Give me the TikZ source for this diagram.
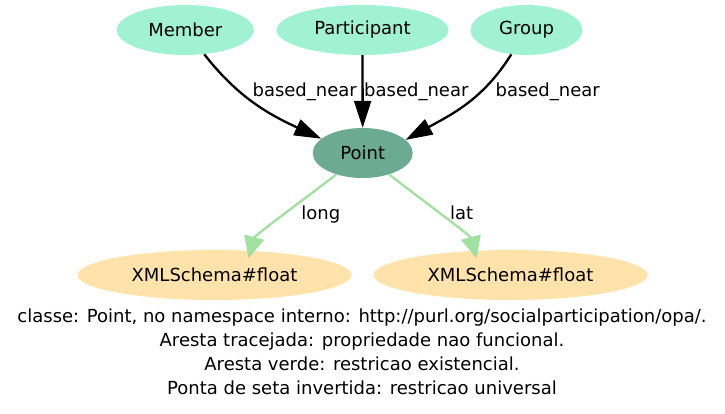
\documentclass[tikz,border=0pt]{standalone}
\usepackage{fontspec}
\setmainfont{DejaVu Sans}
\usepackage{tikz}
\usetikzlibrary{shapes.geometric,arrows.meta}

\definecolor{mint}{HTML}{A1F2D4}
\definecolor{pointfill}{HTML}{6DAA93}
\definecolor{floatfill}{HTML}{FFE3AA}
\definecolor{restrgreen}{HTML}{A0E0A0}

\begin{document}
\begin{tikzpicture}[x=1pt, y=1pt,
  every node/.style={inner sep=0pt, font=\fontsize{18}{23.7}\selectfont},
  cls/.style={ellipse, fill=mint, minimum height=50pt},
  lit/.style={ellipse, fill=floatfill, minimum width=274pt, minimum height=50pt},
  lbl/.style={anchor=base},
  arrow/.style={-{Triangle[length=27pt,width=17pt]}, line width=2.3pt},
  restr/.style={-{Triangle[length=22pt,width=20pt]}, line width=2.3pt, color=restrgreen, shorten >=-8pt}
]
  \useasboundingbox (0,0) rectangle (725,413);

  \node[cls, minimum width=137pt] (member) at (185.3,383) {Member};
  \node[cls, minimum width=172pt] (part) at (362.5,383) {Participant};
  \node[cls, minimum width=112pt] (group) at (526.5,383) {Group};
  \node[cls, fill=pointfill, minimum width=100pt] (point) at (362.7,260) {Point};

  \node[lit] (flt1) at (214.5,138) {XMLSchema\#float};
  \node[lit] (flt2) at (510.5,138) {XMLSchema\#float};

  \draw[arrow] (member) to[out=-52, in=155] (point.161);
  \draw[arrow] (part) -- (point);
  \draw[arrow] (group) to[out=238, in=29] (point.17);
  \draw[restr] (point) to[out=219, in=75, looseness=0.35] (flt1.34);
  \draw[restr] (point) to[out=-39, in=105, looseness=0.35] (flt2.146);

  \node[lbl] (lbl1) at (304.7,316.3) {based\_near};
  \node[lbl] (lbl2) at (416.3,316.3) {based\_near};
  \node[lbl] (lbl3) at (547.7,316.3) {based\_near};
  \node[lbl] (lbllong) at (320.8,194) {long};
  \node[lbl] (lbllat) at (461.7,194) {lat};

  % base anchor sits on the last line
  \node[lbl, align=center] (legend) at (362,19) {classe: Point, no namespace interno: http://purl.org/socialparticipation/opa/.\\Aresta tracejada: propriedade nao funcional.\\Aresta verde: restricao existencial.\\Ponta de seta invertida: restricao universal};
\end{tikzpicture}
\end{document}
